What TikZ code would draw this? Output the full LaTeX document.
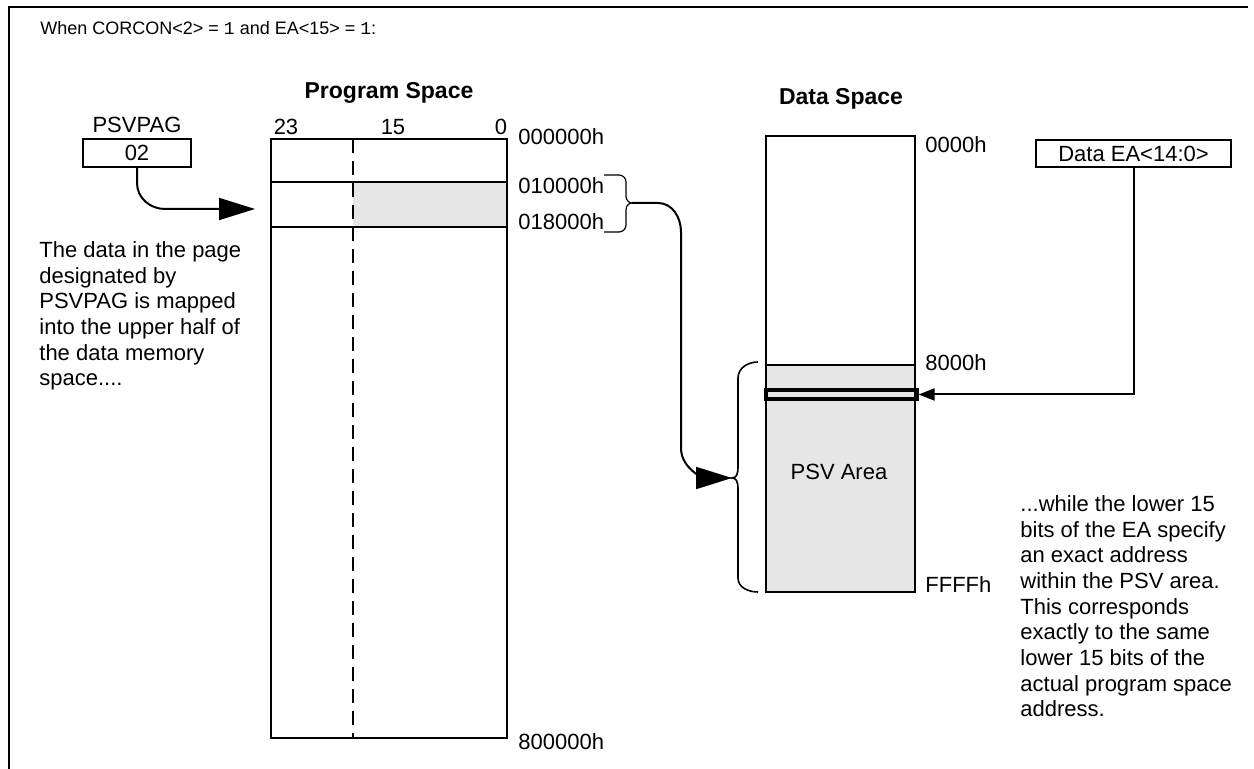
\documentclass[tikz,border=0pt]{standalone}
\usepackage{fontspec}
\setmainfont{Liberation Sans}
\setmonofont{Liberation Mono}
\usetikzlibrary{arrows.meta}
\definecolor{psvgray}{RGB}{230,230,230}
\begin{document}
\begin{tikzpicture}[x=0.5pt,y=-0.5pt,
  lbl/.style={font=\fontsize{11}{13}\selectfont, inner sep=0pt},
  addr/.style={lbl, anchor=west},
  ttl/.style={font=\fontsize{11.5}{13}\selectfont\bfseries, inner sep=0pt},
  para/.style={align=left, anchor=north west, inner sep=0pt, font=\fontsize{11}{12.85}\selectfont},
  box/.style={draw, line width=1pt, inner sep=0pt, font=\fontsize{11}{13}\selectfont},
  thick line/.style={line width=1pt},
  bigarrow/.style={line width=1pt, -{Triangle[length=18pt,width=11pt]}},
  smallarrow/.style={line width=1pt, -{Triangle[length=8pt,width=6pt]}}]
\useasboundingbox (0,0) rectangle (1254,769);
% frame
\draw[thick line] (1248,7) -- (9,7) -- (9,769);
% title
\node[font=\fontsize{9}{11}\selectfont, anchor=west, inner sep=0pt] (title) at (40,28) {When CORCON<2> = \texttt{1} and EA<15> = \texttt{1}:};
% program space
\node[ttl] (pst) at (389,93) {Program Space};
\node[lbl] (b23) at (286,127) {23};
\node[lbl] (b15) at (393,127) {15};
\node[lbl] (b0) at (501,127) {0};
\fill[psvgray] (353,182) rectangle (507,227);
\draw[thick line] (271,139) rectangle (507,738);
\draw[thick line] (271,182) -- (507,182) (271,227) -- (507,227);
\draw[thick line, dash pattern=on 7pt off 4pt] (353,139) -- (353,738);
\node[addr] (a0) at (518,137) {000000h};
\node[addr] (a1) at (518,186) {010000h};
\node[addr] (a2) at (518,222) {018000h};
\node[addr] (a3) at (518,742) {800000h};
% bracket on program side
\draw[line width=0.6pt] (604,175) -- (619,175) to[out=0,in=90] (626,182) -- (626,196) to[out=270,in=180] (632,203) to[out=180,in=90] (626,210) -- (626,225) to[out=270,in=0] (619,232) -- (604,232);
\coordinate (pbtip) at (632,203);
\coordinate (dbtip) at (732,478);
% data space
\node[ttl] (dst) at (841,99) {Data Space};
\fill[psvgray] (766,365) rectangle (915,592);
\draw[thick line] (766,136) rectangle (915,592);
\draw[thick line] (766,365) -- (915,365);
\node[draw, line width=1.6pt, minimum width=75.5pt, minimum height=4.5pt, inner sep=0pt] (slot) at (841.5,394.5) {};
\node[lbl] (psv) at (839,472) {PSV Area};
\node[addr] (d0) at (925,145) {0000h};
\node[addr] (d1) at (925,363) {8000h};
\node[addr] (d2) at (925,585) {FFFFh};
% data brace
\draw[line width=0.8pt] (758,362) to[out=180,in=90] (738,378) -- (738,467) .. controls (738,475) and (736,478) .. (dbtip) .. controls (736,478) and (738,481) .. (738,489) -- (738,578) to[out=270,in=180] (758,592);
% mapping connector
\draw[bigarrow] (pbtip) -- (658,203) to[out=0,in=90] (681,232) -- (681,448) to[out=270,in=180] (dbtip);
% EA box
\node[box, minimum width=97.5pt, minimum height=13.5pt] (ea) at (1133.5,153.5) {Data EA<14:0>};
\draw[smallarrow] (ea.south) |- (slot.east);
% PSVPAG
\node[lbl] (pl) at (137,125) {PSVPAG};
\node[box, minimum width=54pt, minimum height=14pt] (pag) at (137,153) {02};
\coordinate (pin) at (255,209);
\draw[bigarrow] (pag.south) -- (137,183) to[out=270,in=180] (165,209) -- (pin);
% paragraphs
\node[para] (lt) at (39,241) {The data in the page\\designated by\\PSVPAG is mapped\\into the upper half of\\the data memory\\space....};
\node[para] (rt) at (1020,495) {...while the lower 15\\bits of the EA specify\\an exact address\\within the PSV area.\\This corresponds\\exactly to the same\\lower 15 bits of the\\actual program space\\address.};
\end{tikzpicture}
\end{document}
